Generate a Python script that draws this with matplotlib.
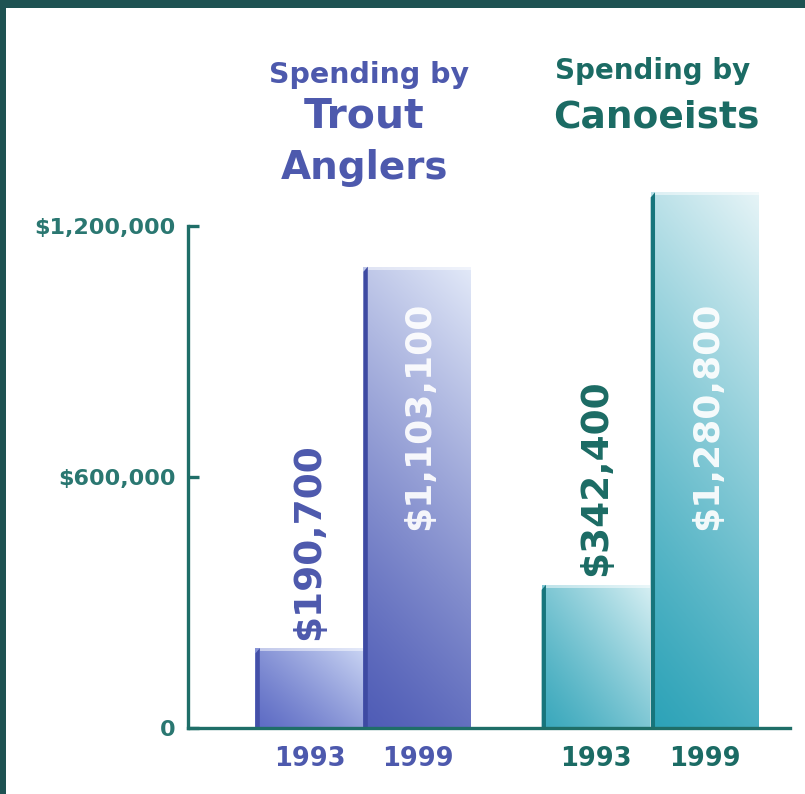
import numpy as np
import matplotlib
matplotlib.use("Agg")
import matplotlib.pyplot as plt
from matplotlib.colors import to_rgb
from matplotlib.patches import Rectangle, Polygon

# ---- data ----
groups = ["Trout Anglers", "Canoeists"]
years = ["1993", "1999"]
trout_values = [190700, 1103100]
canoe_values = [342400, 1280800]
trout_labels = ["$190,700", "$1,103,100"]
canoe_labels = ["$342,400", "$1,280,800"]
ytick_values = [0, 600000, 1200000]
ytick_labels = ["0", "$600,000", "$1,200,000"]

# ---- style ----
W, H = 805, 794
FRAME = "#1e5252"
AXIS = "#1f6e68"
TEAL_TXT = "#1b6b64"
BLUE_TXT = "#4d59ad"
plt.rcParams["font.family"] = ["DejaVu Sans"]
plt.rcParams["font.weight"] = "bold"

fig = plt.figure(figsize=(W / 100, H / 100), dpi=100)
fig.patch.set_facecolor(FRAME)
fig.add_artist(Rectangle((6 / W, 0), 1 - 6 / W, 1 - 8 / H, transform=fig.transFigure,
                         facecolor="white", edgecolor="none", zorder=0))

ax = fig.add_axes([188 / W, (H - 728) / H, (790 - 188) / W, (728 - 176) / H])
ax.set_facecolor("none")

trout_x = [0.0, 1.0]
canoe_x = [2.65, 3.66]
bar_w = 1.0

trout_bars = ax.bar(trout_x, trout_values, width=bar_w, color="none", edgecolor="none", zorder=1)
canoe_bars = ax.bar(canoe_x, canoe_values, width=bar_w, color="none", edgecolor="none", zorder=1)

grad_specs = [
    # dark (bottom-left), light (top-right), weight_y, weight_x, bevel colour
    (trout_bars[0], "#5d6bc4", "#c9d4f3", 0.45, 0.55, "#4450a8"),
    (trout_bars[1], "#4f5cb6", "#e2e9f8", 0.8, 0.2, "#3e4aa2"),
    (canoe_bars[0], "#3aa8bc", "#d6eff3", 0.5, 0.5, "#17757c"),
    (canoe_bars[1], "#2da3b8", "#e6f4f7", 0.8, 0.2, "#17757c"),
]

for patch, dark, light, wy, wx, bevel in grad_specs:
    x0 = patch.get_x()
    w = patch.get_width()
    h = patch.get_height()
    yy, xx = np.mgrid[0:1:200j, 0:1:60j]
    t = (wy * yy + wx * xx) / (wy + wx)
    t = t ** 1.2
    d = np.array(to_rgb(dark))
    l = np.array(to_rgb(light))
    img = d[None, None, :] + (l - d)[None, None, :] * t[..., None]
    im = ax.imshow(img, extent=(x0, x0 + w, 0, h), origin="lower", aspect="auto",
                   zorder=2, interpolation="bilinear")
    im.set_clip_path(patch)
    # left bevel
    s = 0.04
    dy = 12000
    ax.add_patch(Polygon([(x0, 0), (x0, h - dy), (x0 + s, h), (x0 + s, 0)],
                         closed=True, facecolor=bevel, edgecolor="none", zorder=3))
    # top highlight
    ax.add_patch(Rectangle((x0 + s, h - 7000), w - s, 7000, facecolor="white",
                           alpha=0.5, edgecolor="none", zorder=3))

# value labels
for patch, lab, col in [(trout_bars[0], trout_labels[0], BLUE_TXT),
                        (canoe_bars[0], canoe_labels[0], TEAL_TXT)]:
    ax.annotate(lab, (patch.get_x() + patch.get_width() / 2, patch.get_height()),
                xytext=(0, 6), textcoords="offset points", rotation=90,
                ha="center", va="bottom", fontsize=27, fontweight="bold", color=col, zorder=5)
inside_top = 1020000
for patch, lab in [(trout_bars[1], trout_labels[1]), (canoe_bars[1], canoe_labels[1])]:
    ax.text(patch.get_x() + patch.get_width() / 2 + 0.02, inside_top, lab, rotation=90,
            ha="center", va="top", fontsize=26, fontweight="bold", color="white",
            alpha=0.92, zorder=5)

ax.set_xlim(-1.125, 4.45)
ax.set_ylim(0, 1320000)

for sp in ["top", "right"]:
    ax.spines[sp].set_visible(False)
ax.spines["left"].set_bounds(0, 1200000)
for sp in ["left", "bottom"]:
    ax.spines[sp].set_color(AXIS)
    ax.spines[sp].set_linewidth(2.4)
    ax.spines[sp].set_zorder(6)

ax.set_yticks(ytick_values, labels=ytick_labels)
ax.tick_params(axis="y", direction="in", length=8, width=2.4, color=AXIS, pad=9,
               labelsize=16, labelcolor="#2a7771")
ax.set_xticks(trout_x + canoe_x, labels=years + years)
ax.tick_params(axis="x", length=0, pad=13, labelsize=18.5)
for i, tl in enumerate(ax.get_xticklabels()):
    tl.set_color(BLUE_TXT if i < 2 else TEAL_TXT)
    tl.set_fontweight("bold")
for tl in ax.get_yticklabels():
    tl.set_fontweight("bold")

def fp(x, y):
    return x / W, 1 - y / H

fig.text(*fp(369, 75), "Spending by", ha="center", va="center", fontsize=20.5,
         fontweight="bold", color=BLUE_TXT)
fig.text(*fp(364, 116), "Trout", ha="center", va="center", fontsize=29.5,
         fontweight="bold", color=BLUE_TXT)
fig.text(*fp(365, 168), "Anglers", ha="center", va="center", fontsize=28,
         fontweight="bold", color=BLUE_TXT)
fig.text(*fp(653, 71), "Spending by", ha="center", va="center", fontsize=20,
         fontweight="bold", color=TEAL_TXT)
fig.text(*fp(656, 117), "Canoeists", ha="center", va="center", fontsize=27,
         fontweight="bold", color=TEAL_TXT)

fig.savefig("out.png", dpi=100, facecolor=fig.get_facecolor())
